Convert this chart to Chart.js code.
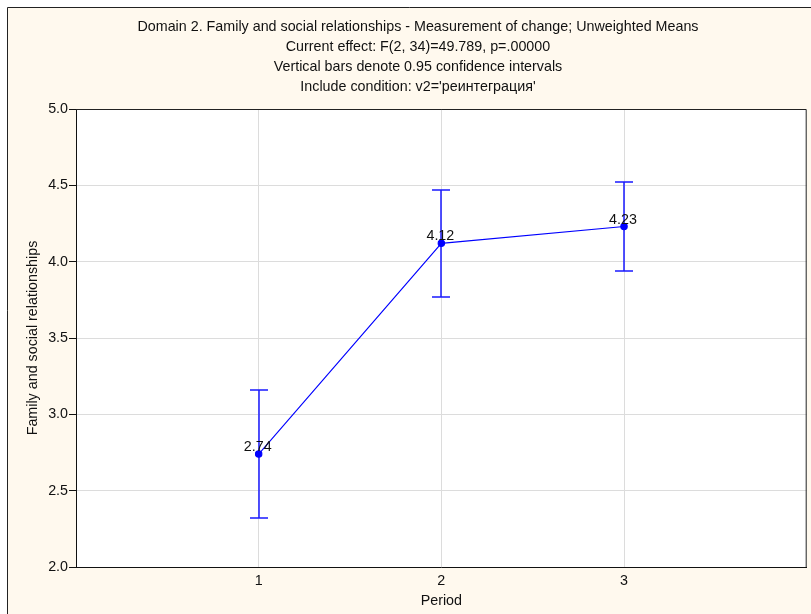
<!DOCTYPE html>
<html>
<head>
<meta charset="utf-8">
<script src="https://cdn.jsdelivr.net/npm/chart.js@4.4.1/dist/chart.umd.min.js"></script>
<style>
  html, body { margin: 0; padding: 0; background: #ffffff; }
  #wrap { width: 811px; height: 614px; }
</style>
</head>
<body>
<div id="wrap"><canvas id="c" width="811" height="614"></canvas></div>
<script>
// Period means of "Family and social relationships" with 0.95 confidence limits
const periods = [1, 2, 3];
const means = [2.74, 4.12, 4.23];
const ciLow = [2.32, 3.77, 3.94];
const ciHigh = [3.16, 4.47, 4.52];
const xTickValues = [1, 2, 3];

const titleLines = [
  "Domain 2. Family and social relationships - Measurement of change; Unweighted Means",
  "Current effect: F(2, 34)=49.789, p=.00000",
  "Vertical bars denote 0.95 confidence intervals",
  "Include condition: v2='реинтеграция'"
];

const FONT = "'Liberation Sans', Arial, sans-serif";
const FS = 14.3;
const BLUE = "#0000ff";
const CREAM = "#fff9ee";

const points = periods.map((p, i) => ({ x: p, y: means[i] }));

const framePlugin = {
  id: 'frame',
  beforeDraw(chart) {
    const { ctx, width, height, chartArea: a } = chart;
    ctx.save();
    ctx.fillStyle = '#ffffff';
    ctx.fillRect(0, 0, width, height);
    ctx.fillStyle = CREAM;
    ctx.fillRect(8, 8, width - 8, height - 8);
    ctx.strokeStyle = '#222';
    ctx.lineWidth = 1;
    ctx.beginPath();
    ctx.moveTo(7.5, height);
    ctx.lineTo(7.5, 7.5);
    ctx.lineTo(width, 7.5);
    ctx.stroke();
    ctx.fillStyle = '#ffffff';
    ctx.fillRect(a.left, a.top, a.right - a.left, a.bottom - a.top);
    // heading
    ctx.fillStyle = '#111';
    ctx.font = FS + 'px ' + FONT;
    ctx.textAlign = 'center';
    ctx.textBaseline = 'middle';
    titleLines.forEach((t, i) => ctx.fillText(t, 418, 27 + i * 20));
    ctx.restore();
  },
  afterDraw(chart) {
    const { ctx, chartArea: a } = chart;
    ctx.save();
    ctx.strokeStyle = '#222';
    ctx.lineWidth = 1;
    ctx.beginPath();
    ctx.moveTo(a.left, a.top + 0.5);
    ctx.lineTo(a.right - 0.5, a.top + 0.5);
    ctx.lineTo(a.right - 0.5, a.bottom);
    ctx.stroke();
    ctx.restore();
  }
};

const errorBarPlugin = {
  id: 'errorBars',
  beforeDatasetsDraw(chart) {
    const { ctx, scales: { x, y } } = chart;
    ctx.save();
    ctx.strokeStyle = '#1a1aff';
    ctx.lineWidth = 1.5;
    periods.forEach((p, i) => {
      const px = Math.round(x.getPixelForValue(p));
      const yl = Math.round(y.getPixelForValue(ciLow[i]));
      const yh = Math.round(y.getPixelForValue(ciHigh[i]));
      ctx.beginPath();
      ctx.moveTo(px, yh);
      ctx.lineTo(px, yl);
      ctx.moveTo(px - 9, yh);
      ctx.lineTo(px + 9, yh);
      ctx.moveTo(px - 9, yl);
      ctx.lineTo(px + 9, yl);
      ctx.stroke();
    });
    ctx.restore();
  },
  afterDatasetsDraw(chart) {
    const { ctx, scales: { x, y } } = chart;
    ctx.save();
    ctx.fillStyle = '#111';
    ctx.font = FS + 'px ' + FONT;
    ctx.textAlign = 'center';
    ctx.textBaseline = 'alphabetic';
    periods.forEach((p, i) => {
      ctx.fillText(means[i].toFixed(2), x.getPixelForValue(p) - 1, y.getPixelForValue(means[i]) - 3);
    });
    ctx.restore();
  }
};

new Chart(document.getElementById('c'), {
  type: 'line',
  data: {
    datasets: [{
      data: points,
      borderColor: BLUE,
      backgroundColor: BLUE,
      borderWidth: 1.1,
      pointRadius: 3.2,
      pointHoverRadius: 3.2,
      pointBackgroundColor: BLUE,
      pointBorderColor: BLUE,
      tension: 0
    }]
  },
  options: {
    responsive: false,
    animation: false,
    events: [],
    layout: { padding: { top: 109, right: 3, left: 0, bottom: 0 } },
    plugins: {
      legend: { display: false },
      title: { display: false },
      tooltip: { enabled: false }
    },
    scales: {
      x: {
        type: 'linear',
        min: 0,
        max: 4,
        afterBuildTicks(scale) {
          scale.ticks = xTickValues.map(v => ({ value: v }));
        },
        afterFit(scale) { scale.height = 47; },
        grid: { color: '#dcdcdc', lineWidth: 1, drawTicks: false },
        border: { display: true, color: '#111', width: 1 },
        ticks: {
          padding: 5,
          color: '#111',
          font: { family: FONT, size: FS },
          callback: v => String(v)
        },
        title: {
          display: true,
          text: 'Period',
          color: '#111',
          font: { family: FONT, size: FS },
          padding: { top: 0, bottom: 4 }
        }
      },
      y: {
        min: 2,
        max: 5,
        afterFit(scale) { scale.width = 76; },
        grid: { color: '#dcdcdc', lineWidth: 1, tickLength: 7, tickColor: '#111' },
        border: { display: true, color: '#111', width: 1 },
        ticks: {
          stepSize: 0.5,
          padding: 1,
          color: '#111',
          font: { family: FONT, size: FS },
          callback: v => Number(v).toFixed(1)
        },
        title: {
          display: true,
          text: 'Family and social relationships',
          color: '#111',
          font: { family: FONT, size: FS },
          padding: { top: 24, bottom: 0 }
        }
      }
    }
  },
  plugins: [framePlugin, errorBarPlugin]
});
</script>
</body>
</html>
